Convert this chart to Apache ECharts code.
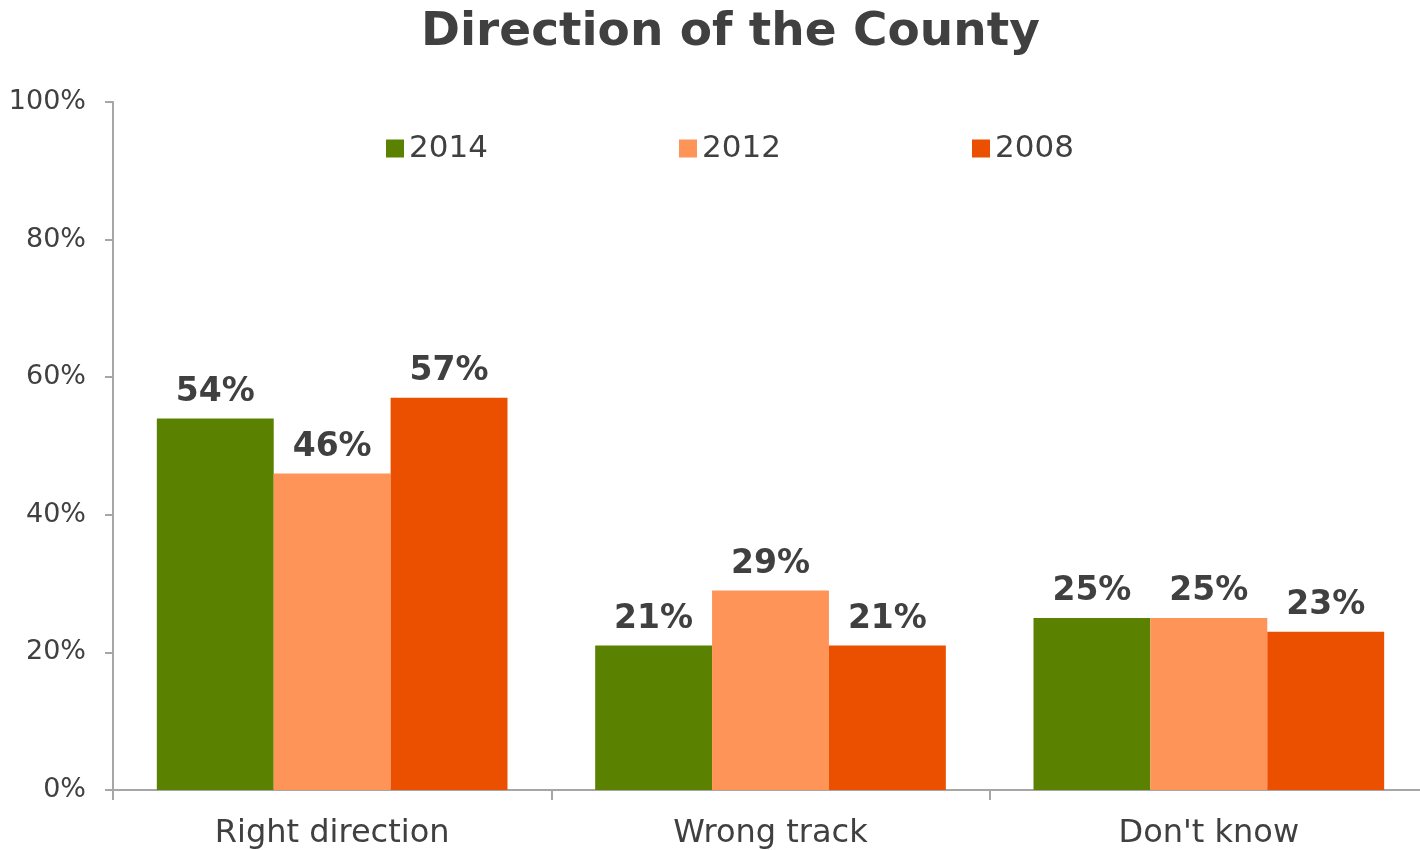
<!DOCTYPE html>
<html>
<head>
<meta charset="utf-8">
<script src="https://cdn.jsdelivr.net/npm/echarts@6/dist/echarts.min.js"></script>
<style>
  html, body { margin: 0; padding: 0; background: #fff; overflow: hidden; }
  #chart { width: 1428px; height: 850px; }
</style>
</head>
<body>
<div id="chart"></div>
<script>
const categories = ["Right direction", "Wrong track", "Don't know"];
const years = ["2014", "2012", "2008"];
const values2014 = [54, 21, 25];
const values2012 = [46, 29, 25];
const values2008 = [57, 21, 23];
const colors = ["#5a8200", "#ff9459", "#ea5000"];

const textColor = "#404040";
const axisColor = "#a6a6a6";
const font = "DejaVu Sans, Verdana, sans-serif";

// the plot runs a few pixels past the right edge of the window, as in the original
const chart = echarts.init(document.getElementById("chart"));

const seriesValues = [values2014, values2012, values2008];
const legendLeft = [381, 674, 967];

chart.setOption({
    animation: false,
    title: {
        text: "Direction of the County",
        left: 416,
        top: 4,
        textStyle: { fontFamily: font, fontSize: 47, fontWeight: "bold", color: textColor }
    },
    legend: years.map((y, i) => ({
        data: [y],
        left: legendLeft[i],
        top: 128,
        itemWidth: 18,
        itemHeight: 18,
        icon: "rect",
        itemGap: 8,
        textStyle: { fontFamily: font, fontSize: 31, color: textColor }
    })),
    grid: { left: 113, right: 0, top: 102, bottom: 60, containLabel: false },
    xAxis: {
        type: "category",
        data: categories,
        axisLine: { lineStyle: { color: axisColor, width: 2 } },
        axisTick: { show: true, length: 10, lineStyle: { color: axisColor, width: 2 } },
        axisLabel: { margin: 28, fontFamily: font, fontSize: 32, color: textColor }
    },
    yAxis: {
        type: "value",
        min: 0,
        max: 100,
        interval: 20,
        axisLine: { show: true, lineStyle: { color: axisColor, width: 2 } },
        axisTick: { show: true, length: 8, lineStyle: { color: axisColor, width: 2 } },
        splitLine: { show: false },
        axisLabel: {
            margin: 27,
            fontFamily: font,
            fontSize: 27,
            color: textColor,
            formatter: v => v + "%"
        }
    },
    series: years.map((y, i) => ({
        name: y,
        type: "bar",
        data: seriesValues[i],
        barGap: "0%",
        barCategoryGap: "20%",
        itemStyle: { color: colors[i] },
        label: {
            show: true,
            position: "top",
            distance: 10,
            formatter: "{c}%",
            fontFamily: font,
            fontSize: 33,
            fontWeight: "bold",
            color: textColor
        }
    }))
});
</script>
</body>
</html>
